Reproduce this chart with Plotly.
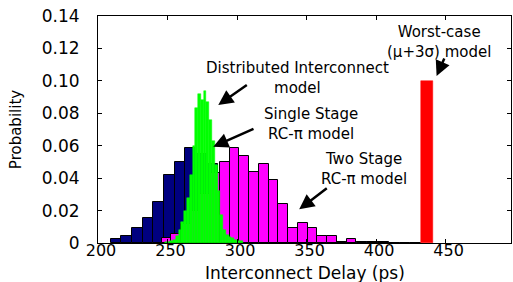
import plotly.graph_objects as go

# ---- data ----
# Single Stage RC-pi model (navy), bin width 7.7 ps
single_delay = [212.85, 220.55, 228.25, 235.95, 243.65, 251.35, 259.05, 266.75, 274.45, 282.15,
                289.85, 297.55, 305.25, 312.95, 320.65, 328.35, 336.05, 343.75, 351.45, 359.15,
                366.85, 374.55, 382.25, 389.95, 397.65, 405.35, 413.05, 420.75, 428.45]
single_prob = [0.0025, 0.0045, 0.0094, 0.0156, 0.0251, 0.0418, 0.0498, 0.0588, 0.0550, 0.0490,
               0.0420, 0.0340, 0.0260, 0.0180, 0.0120, 0.0080, 0.0050, 0.0025, 0.0015, 0.0010,
               0.0008, 0.0005, 0.0008, 0.0008, 0.0006, 0.0004, 0.0003, 0.0003, 0.0003]
single_bin = 7.7

# Two Stage RC-pi model (magenta), bin width 7.0 ps
two_delay = [249.2, 256.2, 263.2, 270.2, 277.2, 284.2, 291.2, 298.2, 305.2, 312.2,
             319.2, 326.2, 333.2, 340.2, 347.2, 354.2, 361.2, 368.2, 375.2, 382.2]
two_prob = [0.0030, 0.0056, 0.0120, 0.0200, 0.0300, 0.0430, 0.0502, 0.0584, 0.0537, 0.0440,
            0.0487, 0.0389, 0.0241, 0.0094, 0.0121, 0.0094, 0.0043, 0.0043, 0.0000, 0.0025]
two_bin = 7.0

# Distributed Interconnect model (green), bin width 2 ps
dist_delay = [249, 251, 253, 255, 257, 259, 261, 263, 265, 267, 269, 271, 273, 275,
              277, 279, 281, 283, 285, 287, 289, 291, 293, 295, 297, 299, 301, 303]
dist_prob = [0.0005, 0.0008, 0.0012, 0.0018, 0.0045, 0.0080, 0.0130, 0.0200, 0.0280, 0.0420,
             0.0600, 0.0830, 0.0920, 0.0880, 0.0940, 0.0870, 0.0760, 0.0630, 0.0480, 0.0320,
             0.0170, 0.0080, 0.0050, 0.0040, 0.0030, 0.0020, 0.0015, 0.0010]
dist_bin = 2.0

# Worst-case (mu+3sigma) model (red)
worst_delay = [436.6]
worst_prob = [0.10]
worst_bin = 8.6

x_ticks = [200, 250, 300, 350, 400, 450]
y_ticks = [0, 0.02, 0.04, 0.06, 0.08, 0.10, 0.12, 0.14]
y_tick_text = ["0", "0.02", "0.04", "0.06", "0.08", "0.10", "0.12", "0.14"]

FONT = "DejaVu Sans"

fig = go.Figure()
fig.add_trace(go.Bar(x=single_delay, y=single_prob, width=single_bin,
                     marker=dict(color="#000080", line=dict(color="black", width=1))))
fig.add_trace(go.Bar(x=two_delay, y=two_prob, width=two_bin,
                     marker=dict(color="#FF00FF", line=dict(color="black", width=1))))
fig.add_trace(go.Bar(x=dist_delay, y=dist_prob, width=dist_bin,
                     marker=dict(color="#00FF00", line=dict(color="#00FF00", width=0.5))))
fig.add_trace(go.Bar(x=worst_delay, y=worst_prob, width=worst_bin,
                     marker=dict(color="#FF0000", line=dict(color="#FF0000", width=0.5))))

# text labels (two lines each)
labels = [
    ("Worst-case<br>(\u03bc+3\u03c3) model", 445.0, 0.1242),
    ("Distributed Interconnect<br>model", 343.2, 0.1016),
    ("Single Stage<br>RC-\u03c0 model", 353.1, 0.0734),
    ("Two Stage<br>RC-\u03c0 model", 391.2, 0.0457),
]
for t, x, y in labels:
    fig.add_annotation(x=x, y=y, text=t, showarrow=False, xanchor="center", yanchor="middle",
                       align="center", font=dict(family=FONT, size=15, color="black"))

arrows = [
    (449.5, 0.1147, 443.5, 0.1030),
    (308.1, 0.0981, 286.5, 0.0851),
    (312.9, 0.0708, 282.9, 0.0594),
    (365.6, 0.0344, 344.7, 0.0208),
]
for ax, ay, x, y in arrows:
    fig.add_annotation(x=x, y=y, ax=ax, ay=ay, axref="x", ayref="y", text="",
                       showarrow=True, arrowhead=2, arrowsize=1.2, arrowwidth=2.5,
                       arrowcolor="black")

# x-axis title
fig.add_annotation(x=0.5, y=-0.132, xref="paper", yref="paper", text="Interconnect Delay (ps)",
                   showarrow=False, xanchor="center", yanchor="middle",
                   font=dict(family=FONT, size=17, color="black"))

fig.update_layout(
    width=513, height=282, autosize=False,
    margin=dict(l=98, r=2, t=16, b=39),
    paper_bgcolor="white", plot_bgcolor="white",
    barmode="overlay", bargap=0, showlegend=False,
    font=dict(family=FONT, color="black"),
)
fig.update_xaxes(range=[200, 497], tickvals=x_ticks, ticks="inside", ticklen=4,
                 tickcolor="black", showline=True, linecolor="black", linewidth=1,
                 mirror="ticks", showgrid=False, zeroline=False,
                 tickfont=dict(family=FONT, size=16), ticklabelshift=3,
                 ticklabelstandoff=-7)
fig.update_yaxes(range=[0, 0.14], tickvals=y_ticks, ticktext=y_tick_text, ticks="inside",
                 ticklen=4, tickcolor="black", showline=True, linecolor="black", linewidth=1,
                 mirror="ticks", showgrid=False, zeroline=False,
                 tickfont=dict(family=FONT, size=17), ticklabelstandoff=14,
                 title=dict(text="Probability", font=dict(family=FONT, size=15), standoff=16))

fig.write_html("out.html", config={"displayModeBar": False},
               post_script="document.body.style.margin='0';document.body.style.padding='0';")
